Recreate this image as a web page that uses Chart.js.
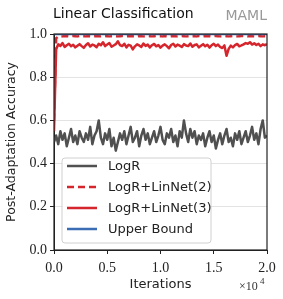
<!DOCTYPE html>
<html>
<head>
<meta charset="utf-8">
<script src="https://cdn.jsdelivr.net/npm/chart.js@4.4.1/dist/chart.umd.min.js"></script>
<style>
  html, body { margin: 0; padding: 0; background: #fff; }
  #wrap { width: 283px; height: 299px; }
</style>
</head>
<body>
<div id="wrap"><canvas id="accChart"></canvas></div>
<script>
// data
const iterations = [
  0, 200, 400, 600, 800, 1000, 1200, 1400, 1600, 1800,
  2000, 2200, 2400, 2600, 2800, 3000, 3200, 3400, 3600, 3800,
  4000, 4200, 4400, 4600, 4800, 5000, 5200, 5400, 5600, 5800,
  6000, 6200, 6400, 6600, 6800, 7000, 7200, 7400, 7600, 7800,
  8000, 8200, 8400, 8600, 8800, 9000, 9200, 9400, 9600, 9800,
  10000, 10200, 10400, 10600, 10800, 11000, 11200, 11400, 11600, 11800,
  12000, 12200, 12400, 12600, 12800, 13000, 13200, 13400, 13600, 13800,
  14000, 14200, 14400, 14600, 14800, 15000, 15200, 15400, 15600, 15800,
  16000, 16200, 16400, 16600, 16800, 17000, 17200, 17400, 17600, 17800,
  18000, 18200, 18400, 18600, 18800, 19000, 19200, 19400, 19600, 19800,
  20000
];

const logR = [
  0.50, 0.53, 0.49, 0.55, 0.51, 0.54, 0.48, 0.52, 0.56, 0.50,
  0.53, 0.49, 0.55, 0.52, 0.50, 0.54, 0.51, 0.57, 0.49, 0.53,
  0.55, 0.60, 0.52, 0.49, 0.54, 0.51, 0.56, 0.48, 0.52, 0.46,
  0.50, 0.54, 0.51, 0.55, 0.49, 0.53, 0.57, 0.50, 0.52, 0.55,
  0.48, 0.53, 0.56, 0.51, 0.54, 0.49, 0.52, 0.55, 0.50, 0.53,
  0.57, 0.51, 0.49, 0.54, 0.52, 0.56, 0.50, 0.53, 0.48, 0.55,
  0.52, 0.60, 0.54, 0.50, 0.56, 0.52, 0.55, 0.49, 0.53, 0.51,
  0.54, 0.48, 0.52, 0.55, 0.50, 0.53, 0.47, 0.51, 0.54, 0.49,
  0.53, 0.56, 0.50, 0.52, 0.48, 0.54, 0.51, 0.55, 0.49, 0.52,
  0.55, 0.50, 0.53, 0.57, 0.51, 0.54, 0.49, 0.56, 0.60, 0.52,
  0.53
];

const linNet2 = [
  0.60, 0.980, 0.988, 0.990, 0.989, 0.991, 0.990, 0.989, 0.990, 0.991,
  0.990, 0.989, 0.991, 0.990, 0.990, 0.989, 0.991, 0.990, 0.989, 0.990,
  0.991, 0.990, 0.989, 0.990, 0.991, 0.990, 0.989, 0.990, 0.991, 0.990,
  0.989, 0.990, 0.991, 0.990, 0.989, 0.990, 0.991, 0.990, 0.990, 0.989,
  0.991, 0.990, 0.989, 0.990, 0.991, 0.990, 0.989, 0.990, 0.991, 0.990,
  0.990, 0.989, 0.991, 0.990, 0.989, 0.990, 0.991, 0.990, 0.989, 0.990,
  0.991, 0.990, 0.989, 0.990, 0.991, 0.990, 0.990, 0.989, 0.991, 0.990,
  0.989, 0.990, 0.991, 0.990, 0.989, 0.990, 0.991, 0.990, 0.989, 0.990,
  0.991, 0.990, 0.989, 0.990, 0.991, 0.990, 0.989, 0.990, 0.991, 0.990,
  0.990, 0.989, 0.991, 0.990, 0.989, 0.990, 0.991, 0.990, 0.989, 0.990,
  0.990
];

const linNet3 = [
  0.55, 0.93, 0.952, 0.945, 0.958, 0.940, 0.948, 0.955, 0.943, 0.950,
  0.938, 0.946, 0.953, 0.944, 0.936, 0.949, 0.957, 0.942, 0.951, 0.947,
  0.939, 0.955, 0.948, 0.962, 0.944, 0.951, 0.958, 0.941, 0.947, 0.953,
  0.966, 0.949, 0.944, 0.955, 0.938, 0.950, 0.946, 0.929, 0.943, 0.952,
  0.947, 0.940, 0.956, 0.945, 0.951, 0.938, 0.948, 0.954, 0.943, 0.949,
  0.937, 0.946, 0.952, 0.944, 0.934, 0.949, 0.955, 0.942, 0.951, 0.946,
  0.940, 0.953, 0.947, 0.944, 0.956, 0.941, 0.949, 0.952, 0.938, 0.946,
  0.953, 0.943, 0.950, 0.937, 0.948, 0.955, 0.944, 0.951, 0.940, 0.935,
  0.947, 0.899, 0.931, 0.946, 0.938, 0.949, 0.954, 0.943, 0.947, 0.952,
  0.958, 0.955, 0.962, 0.951, 0.957, 0.949, 0.955, 0.944, 0.952, 0.948,
  0.953
];

const upperIters = [0, 20000];
const upperBound = [1.0, 1.0];

const xTicks = [0, 5000, 10000, 15000, 20000];
const yTicks = [0, 0.2, 0.4, 0.6, 0.8, 1.0];

const pair = (xs, ys) => xs.map((x, i) => ({ x: x, y: ys[i] }));

const sansFont = "'DejaVu Sans', sans-serif";
const serifFont = "'Liberation Serif', serif";

// title, MAML tag, frame, x10^4 and legend
const decorPlugin = {
  id: "decor",
  afterDraw(chart) {
    const c = chart.ctx;
    const a = chart.chartArea;
    c.save();

    c.fillStyle = "#111";
    c.font = "14px " + sansFont;
    c.textBaseline = "middle";
    c.textAlign = "left";
    c.fillText("Linear Classification", 53, 14);

    c.fillStyle = "#999";
    c.font = "14px " + sansFont;
    c.textAlign = "right";
    c.fillText("MAML", 267, 16);

    c.strokeStyle = "#222";
    c.lineWidth = 1.2;
    c.strokeRect(a.left, a.top, a.right - a.left, a.bottom - a.top);

    c.fillStyle = "#333";
    c.font = "12px " + serifFont;
    c.textAlign = "left";
    c.fillText("\u00d710", 239, 287);
    c.font = "9px " + serifFont;
    c.fillText("4", 260, 282);

    // legend
    const lx = 62, ly = 158, lw = 149, lh = 85;
    c.fillStyle = "rgba(255,255,255,0.85)";
    c.strokeStyle = "#d0d0d0";
    c.lineWidth = 1;
    c.beginPath();
    c.roundRect(lx, ly, lw, lh, 3);
    c.fill();
    c.stroke();

    c.font = "13px " + sansFont;
    c.textAlign = "left";
    chart.data.datasets.forEach((ds, i) => {
      const y = 166 + i * 21;
      c.strokeStyle = ds.borderColor;
      c.lineWidth = 2.5;
      c.setLineDash(ds.borderDash || []);
      c.beginPath();
      c.moveTo(67, y);
      c.lineTo(97, y);
      c.stroke();
      c.setLineDash([]);
      c.fillStyle = "#222";
      c.fillText(ds.label, 108, y + 1);
    });

    c.restore();
  }
};

new Chart(document.getElementById("accChart"), {
  type: "line",
  data: {
    datasets: [
      {
        label: "LogR",
        data: pair(iterations, logR),
        borderColor: "#505050",
        borderWidth: 2.5,
        order: 3
      },
      {
        label: "LogR+LinNet(2)",
        data: pair(iterations, linNet2),
        borderColor: "#d6262d",
        borderDash: [7, 4],
        borderWidth: 2.5,
        order: 1
      },
      {
        label: "LogR+LinNet(3)",
        data: pair(iterations, linNet3),
        borderColor: "#d6262d",
        borderWidth: 2.5,
        order: 2
      },
      {
        label: "Upper Bound",
        data: pair(upperIters, upperBound),
        borderColor: "#3b6db5",
        borderWidth: 2.5,
        order: 0
      }
    ]
  },
  options: {
    responsive: true,
    maintainAspectRatio: false,
    animation: false,
    elements: {
      point: { radius: 0 },
      line: { tension: 0, borderJoinStyle: "round" }
    },
    layout: { padding: { top: 34, right: 16, left: 0, bottom: 0 } },
    plugins: {
      legend: { display: false },
      tooltip: { enabled: false }
    },
    scales: {
      x: {
        type: "linear",
        min: 0,
        max: 20000,
        afterBuildTicks: (s) => { s.ticks = xTicks.map(v => ({ value: v })); },
        afterFit: (s) => { s.height = 49; },
        ticks: {
          color: "#222",
          font: { family: serifFont, size: 14 },
          padding: 6,
          maxRotation: 0,
          callback: (v) => (v / 10000).toFixed(1)
        },
        grid: { drawOnChartArea: false, tickLength: 4, tickColor: "#222" },
        border: { color: "#222" },
        title: {
          display: true,
          text: "Iterations",
          color: "#222",
          font: { family: sansFont, size: 13 },
          padding: { top: 0, bottom: 7 }
        }
      },
      y: {
        min: 0,
        max: 1,
        afterBuildTicks: (s) => { s.ticks = yTicks.map(v => ({ value: v })); },
        afterFit: (s) => { s.width = 54; },
        ticks: {
          color: "#222",
          font: { family: serifFont, size: 14 },
          padding: 3,
          callback: (v) => v.toFixed(1)
        },
        grid: { color: "#e3e3e3", tickLength: 4, tickColor: "#222" },
        border: { color: "#222" },
        title: {
          display: true,
          text: "Post-Adaptation Accuracy",
          color: "#222",
          font: { family: sansFont, size: 12.5 },
          padding: { top: 4, bottom: 0 }
        }
      }
    }
  },
  plugins: [decorPlugin]
});
</script>
</body>
</html>
